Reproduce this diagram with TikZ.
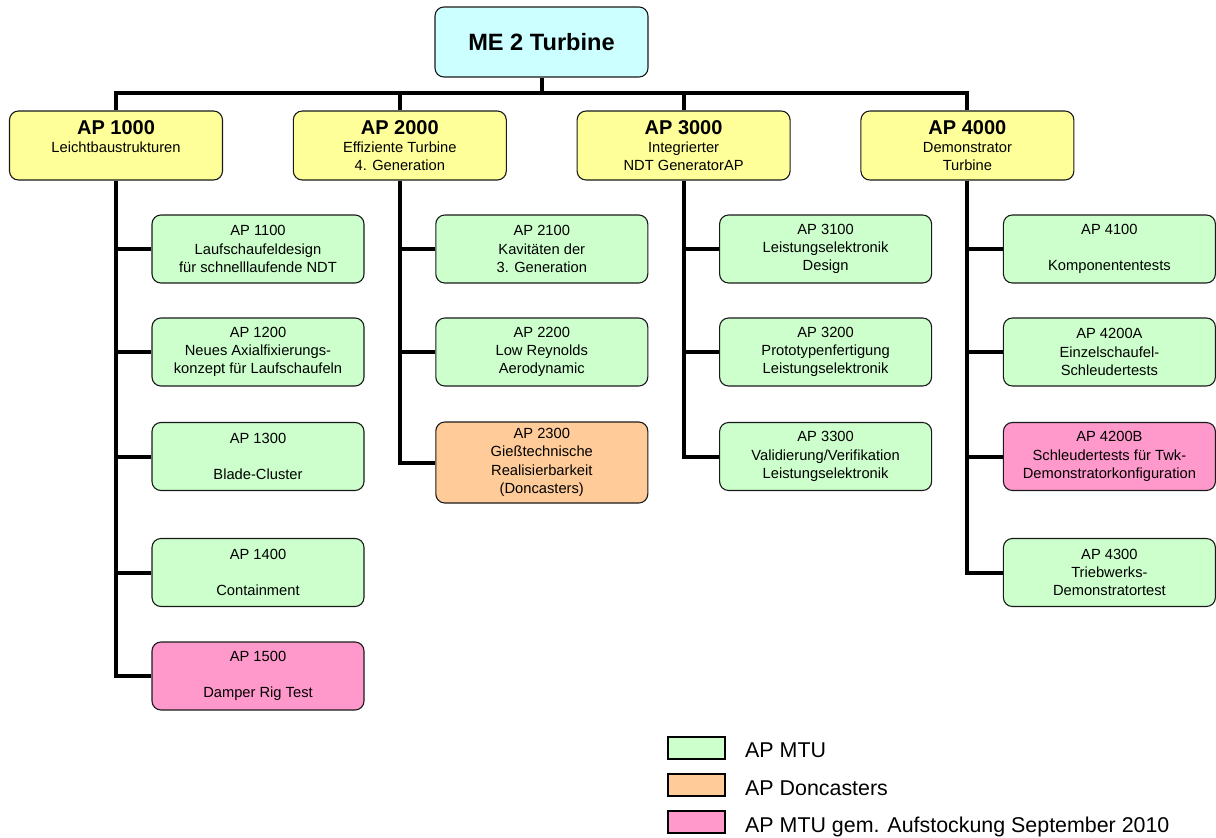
\documentclass[tikz,border=0pt]{standalone}
\usepackage{fontspec}
\setmainfont{Liberation Sans}
\definecolor{topfill}{HTML}{CCFFFF}
\definecolor{mainfill}{HTML}{FFFF99}
\definecolor{mtufill}{HTML}{CCFFCC}
\definecolor{dcfill}{HTML}{FFCC99}
\definecolor{pinkfill}{HTML}{FF99CC}
\definecolor{edgecol}{HTML}{1A1A1A}
\newcommand{\aptitle}[1]{{\fontsize{20}{20}\selectfont\bfseries #1}}
\begin{document}
\begin{tikzpicture}[x=1pt,y=-1pt,
  box/.style={draw=edgecol, line width=1.1pt, rounded corners=9pt, inner sep=0pt, align=center},
  topbox/.style={box, fill=topfill, minimum width=213pt, minimum height=70pt, font=\fontsize{23.6}{28}\selectfont\bfseries},
  mainbox/.style={box, fill=mainfill, minimum width=213pt, minimum height=69pt, font=\fontsize{14.7}{18.3}\selectfont},
  subbox/.style={box, fill=mtufill, minimum width=212pt, minimum height=68pt, font=\fontsize{14.7}{18.3}\selectfont},
  conn/.style={line width=4pt, black},
  legbox/.style={draw=black, line width=1.5pt, minimum width=57pt, minimum height=22pt, inner sep=0pt},
  legtext/.style={anchor=base west, inner sep=0pt, font=\fontsize{21.4}{24}\selectfont}]
\useasboundingbox (0,0) rectangle (1216,838);

% top
\node[topbox] (top) at (541.5,42) {ME 2 Turbine};

% main boxes
\node[mainbox] (ap1) at (116,145.5) {\aptitle{AP 1000}\\Leichtbaustrukturen\\\mbox{}};
\node[mainbox] (ap2) at (399.8,145.5) {\aptitle{AP 2000}\\Effiziente Turbine\\4. Generation};
\node[mainbox] (ap3) at (683.6,145.5) {\aptitle{AP 3000}\\Integrierter\\NDT GeneratorAP};
\node[mainbox] (ap4) at (967.4,145.5) {\aptitle{AP 4000}\\Demonstrator\\Turbine};

% column 1
\node[subbox] (a11) at (258,249) {AP 1100\\Laufschaufeldesign\\für schnelllaufende NDT};
\node[subbox] (a12) at (258,352) {AP 1200\\Neues Axialfixierungs-\\konzept für Laufschaufeln};
\node[subbox] (a13) at (258,456.5) {AP 1300\\\mbox{}\\Blade-Cluster};
\node[subbox] (a14) at (258,572.5) {AP 1400\\\mbox{}\\Containment};
\node[subbox, fill=pinkfill] (a15) at (258,676) {AP 1500\\\mbox{}\\Damper Rig Test};

% column 2
\node[subbox] (a21) at (541.8,249) {AP 2100\\Kavitäten der\\3. Generation};
\node[subbox] (a22) at (541.8,352) {AP 2200\\Low Reynolds\\Aerodynamic};
\node[subbox, fill=dcfill, minimum height=81pt] (a23) at (541.8,462.5) {AP 2300\\Gießtechnische\\Realisierbarkeit\\(Doncasters)};

% column 3
\node[subbox] (a31) at (825.6,249) {AP 3100\\Leistungselektronik\\Design};
\node[subbox] (a32) at (825.6,352) {AP 3200\\Prototypenfertigung\\Leistungselektronik};
\node[subbox] (a33) at (825.6,456.5) {AP 3300\\Validierung/Verifikation\\Leistungselektronik};

% column 4
\node[subbox] (a41) at (1109.4,249) {AP 4100\\\mbox{}\\Komponententests};
\node[subbox] (a42) at (1109.4,352) {AP 4200A\\Einzelschaufel-\\Schleudertests};
\node[subbox, fill=pinkfill] (a43) at (1109.4,456.5) {AP 4200B\\Schleudertests für Twk-\\Demonstratorkonfiguration};
\node[subbox] (a44) at (1109.4,572.5) {AP 4300\\Triebwerks-\\Demonstratortest};

% bus
\coordinate (bus) at (541.5,93);
\draw[conn] (ap1.north) |- (bus) -| (ap4.north);
\draw[conn] (top.south) -- (bus);
\draw[conn] (ap2.north) -- (ap2.north |- bus);
\draw[conn] (ap3.north) -- (ap3.north |- bus);

% column connectors
\draw[conn] (ap1.south) |- (a15.west);
\draw[conn] (ap1.south |- a11.west) -- (a11.west);
\draw[conn] (ap1.south |- a12.west) -- (a12.west);
\draw[conn] (ap1.south |- a13.west) -- (a13.west);
\draw[conn] (ap1.south |- a14.west) -- (a14.west);

\draw[conn] (ap2.south) |- (a23.west);
\draw[conn] (ap2.south |- a21.west) -- (a21.west);
\draw[conn] (ap2.south |- a22.west) -- (a22.west);

\draw[conn] (ap3.south) |- (a33.west);
\draw[conn] (ap3.south |- a31.west) -- (a31.west);
\draw[conn] (ap3.south |- a32.west) -- (a32.west);

\draw[conn] (ap4.south) |- (a44.west);
\draw[conn] (ap4.south |- a41.west) -- (a41.west);
\draw[conn] (ap4.south |- a42.west) -- (a42.west);
\draw[conn] (ap4.south |- a43.west) -- (a43.west);

% legend
\node[legbox, fill=mtufill] (l1) at (696.5,748) {};
\node[legbox, fill=dcfill] (l2) at (696.5,785) {};
\node[legbox, fill=pinkfill] (l3) at (696.5,822) {};
\node[legtext] (t1) at (745,757.5) {AP MTU};
\node[legtext] (t2) at (745,795) {AP Doncasters};
\node[legtext] (t3) at (745,832) {AP MTU gem. Aufstockung September 2010};
\end{tikzpicture}
\end{document}
